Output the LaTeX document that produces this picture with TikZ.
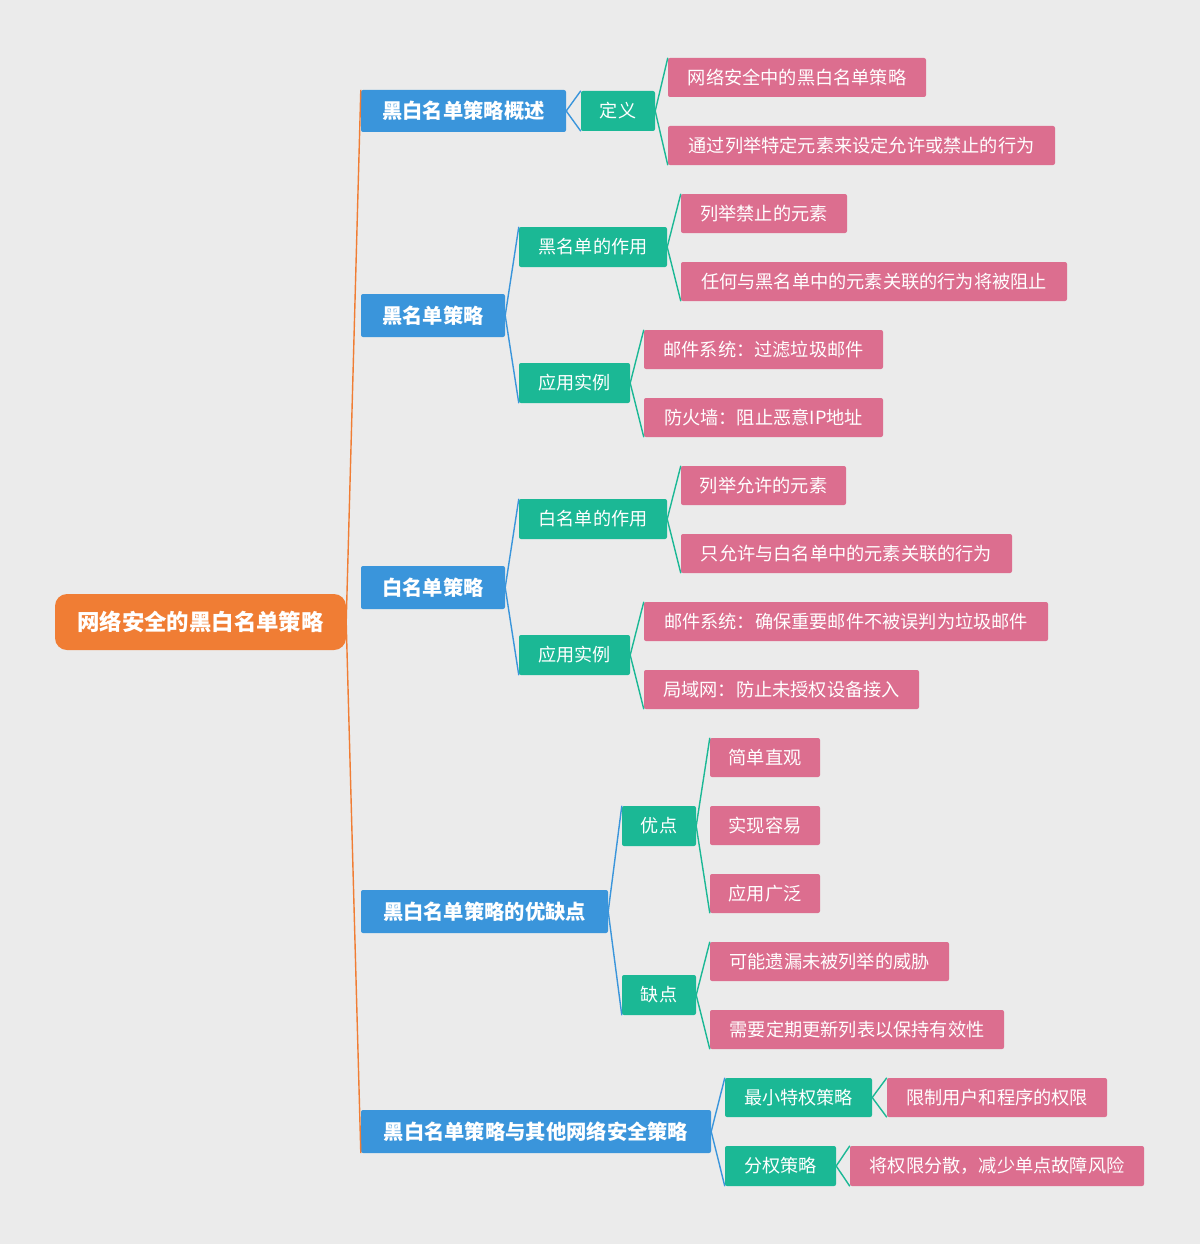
\documentclass[tikz,border=0pt]{standalone}
\usepackage{fontspec}
\setmainfont{Noto Sans CJK SC}
\definecolor{bg}{HTML}{EBEBEB}
\definecolor{cor}{HTML}{F07D34}
\definecolor{cbl}{HTML}{3A95DB}
\definecolor{ctl}{HTML}{1BB895}
\definecolor{cpk}{HTML}{DC6E8F}
\tikzset{
  bx/.style={inner sep=0pt, text=white, rounded corners=2pt},
  rootbox/.style={bx, fill=cor, rounded corners=12pt, font=\fontsize{22.4}{24}\selectfont\bfseries},
  lonebox/.style={bx, fill=cbl, font=\fontsize{20.3}{22}\selectfont\bfseries},
  ltwobox/.style={bx, fill=ctl, font=\fontsize{18.1}{20}\selectfont},
  lthreebox/.style={bx, fill=cpk, font=\fontsize{18.2}{20}\selectfont},
  oline/.style={draw=cor, line width=1.4pt},
  bline/.style={draw=cbl, line width=1.4pt},
  tline/.style={draw=ctl, line width=1.4pt},
}
\begin{document}
\begin{tikzpicture}[x=1pt,y=-1pt]
\fill[bg] (0,0) rectangle (1200,1244);
\useasboundingbox (0,0) rectangle (1200,1244);
% root
\node[rootbox, minimum width=291, minimum height=56] (r) at (200.5,622) {网络安全的黑白名单策略};
% level 1
\node[lonebox, minimum width=205, minimum height=42] (a1) at (463.5,111) {黑白名单策略概述};
\node[lonebox, minimum width=144, minimum height=43] (a2) at (433,315.5) {黑名单策略};
\node[lonebox, minimum width=144, minimum height=43] (a3) at (433,587.5) {白名单策略};
\node[lonebox, minimum width=247, minimum height=43] (a4) at (484.5,911.5) {黑白名单策略的优缺点};
\node[lonebox, minimum width=350, minimum height=43] (a5) at (536,1131.5) {黑白名单策略与其他网络安全策略};
% level 2
\node[ltwobox, minimum width=74, minimum height=40] (b1) at (618,111) {定义};
\node[ltwobox, minimum width=148, minimum height=40] (b2) at (593,247) {黑名单的作用};
\node[ltwobox, minimum width=111, minimum height=40] (b3) at (574.5,383) {应用实例};
\node[ltwobox, minimum width=148, minimum height=40] (b4) at (593,519) {白名单的作用};
\node[ltwobox, minimum width=111, minimum height=40] (b5) at (574.5,655) {应用实例};
\node[ltwobox, minimum width=74, minimum height=40] (b6) at (659,826) {优点};
\node[ltwobox, minimum width=74, minimum height=40] (b7) at (659,995) {缺点};
\node[ltwobox, minimum width=147, minimum height=39] (b8) at (798.5,1097.5) {最小特权策略};
\node[ltwobox, minimum width=111, minimum height=40] (b9) at (780.5,1166) {分权策略};
% level 3
\node[lthreebox, minimum width=258, minimum height=39] (c1) at (797,77.5) {网络安全中的黑白名单策略};
\node[lthreebox, minimum width=387, minimum height=39] (c2) at (861.5,145.5) {通过列举特定元素来设定允许或禁止的行为};
\node[lthreebox, minimum width=166, minimum height=39] (c3) at (764,213.5) {列举禁止的元素};
\node[lthreebox, minimum width=386, minimum height=39] (c4) at (874,281.5) {任何与黑名单中的元素关联的行为将被阻止};
\node[lthreebox, minimum width=239, minimum height=39] (c5) at (763.5,349.5) {邮件系统：过滤垃圾邮件};
\node[lthreebox, minimum width=239, minimum height=39] (c6) at (763.5,417.5) {防火墙：阻止恶意IP地址};
\node[lthreebox, minimum width=165, minimum height=39] (c7) at (763.5,485.5) {列举允许的元素};
\node[lthreebox, minimum width=331, minimum height=39] (c8) at (846.5,553.5) {只允许与白名单中的元素关联的行为};
\node[lthreebox, minimum width=404, minimum height=39] (c9) at (846,621.5) {邮件系统：确保重要邮件不被误判为垃圾邮件};
\node[lthreebox, minimum width=275, minimum height=39] (c10) at (781.5,689.5) {局域网：防止未授权设备接入};
\node[lthreebox, minimum width=110, minimum height=39] (c11) at (765,757.5) {简单直观};
\node[lthreebox, minimum width=110, minimum height=39] (c12) at (765,825.5) {实现容易};
\node[lthreebox, minimum width=110, minimum height=39] (c13) at (765,893.5) {应用广泛};
\node[lthreebox, minimum width=239, minimum height=39] (c14) at (829.5,961.5) {可能遗漏未被列举的威胁};
\node[lthreebox, minimum width=294, minimum height=39] (c15) at (857,1029.5) {需要定期更新列表以保持有效性};
\node[lthreebox, minimum width=220, minimum height=39] (c16) at (997,1097.5) {限制用户和程序的权限};
\node[lthreebox, minimum width=294, minimum height=40] (c17) at (997,1166) {将权限分散，减少单点故障风险};
% connectors
\draw[oline] (a1.north west) -- (r.east) -- (a5.south west);
\draw[bline] (b1.north west) -- (a1.east) -- (b1.south west);
\draw[bline] (b2.north west) -- (a2.east) -- (b3.south west);
\draw[bline] (b4.north west) -- (a3.east) -- (b5.south west);
\draw[bline] (b6.north west) -- (a4.east) -- (b7.south west);
\draw[bline] (b8.north west) -- (a5.east) -- (b9.south west);
\draw[tline] (c1.north west) -- (b1.east) -- (c2.south west);
\draw[tline] (c3.north west) -- (b2.east) -- (c4.south west);
\draw[tline] (c5.north west) -- (b3.east) -- (c6.south west);
\draw[tline] (c7.north west) -- (b4.east) -- (c8.south west);
\draw[tline] (c9.north west) -- (b5.east) -- (c10.south west);
\draw[tline] (c11.north west) -- (b6.east) -- (c13.south west);
\draw[tline] (c14.north west) -- (b7.east) -- (c15.south west);
\draw[tline] (c16.north west) -- (b8.east) -- (c16.south west);
\draw[tline] (c17.north west) -- (b9.east) -- (c17.south west);
\end{tikzpicture}
\end{document}
